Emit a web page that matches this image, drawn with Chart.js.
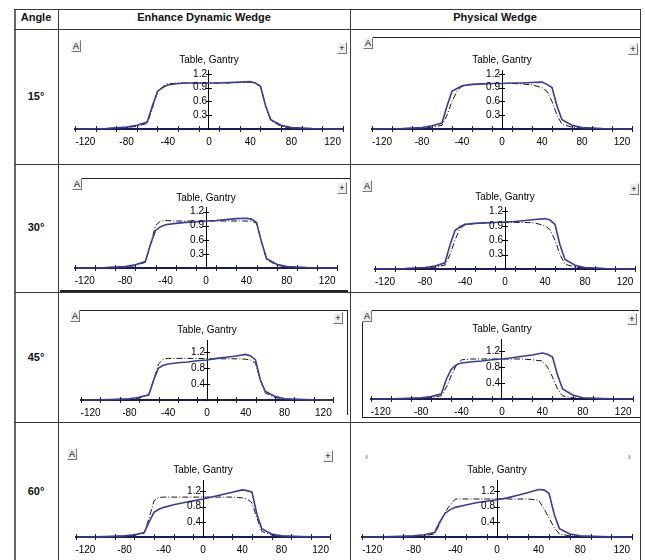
<!DOCTYPE html>
<html>
<head>
<meta charset="utf-8">
<script src="https://cdn.jsdelivr.net/npm/chart.js@4/dist/chart.umd.min.js"></script>
<style>
  body { margin: 0; background: #fff; width: 645px; height: 560px; overflow: hidden; position: relative; font-family: "Liberation Sans", Arial, sans-serif; }
  .ln { position: absolute; background: #3a3a3a; }
  .hd { position: absolute; top: 11px; font-weight: bold; font-size: 11px; text-align: center; color: #111; }
  .ang { position: absolute; left: 14px; width: 44px; font-weight: bold; font-size: 11px; text-align: center; color: #111; }
  canvas { position: absolute; }
  .btn { position: absolute; width: 8px; height: 10px; background: #eeeeee; border-top: 1px solid #fff; border-left: 1px solid #fff;
         border-right: 1px solid #777; border-bottom: 1px solid #777; font: 9px "Liberation Sans", Arial; line-height: 10px; text-align: center; color: #000; }
  .fr { position: absolute; background: #222; }
</style>
</head>
<body>
<div class="ln" style="left:14px;top:9px;width:2px;height:551px;background:#666"></div>
<div class="ln" style="left:58px;top:9px;width:1px;height:551px"></div>
<div class="ln" style="left:350px;top:9px;width:1px;height:551px"></div>
<div class="ln" style="left:640px;top:9px;width:1px;height:551px"></div>
<div class="ln" style="left:14px;top:9px;width:627px;height:1px"></div>
<div class="ln" style="left:14px;top:29px;width:627px;height:1px"></div>
<div class="ln" style="left:14px;top:164px;width:627px;height:1px"></div>
<div class="ln" style="left:14px;top:292px;width:627px;height:1px"></div>
<div class="ln" style="left:14px;top:422px;width:627px;height:1px"></div>

<div class="hd" style="left:14px;width:44px">Angle</div>
<div class="hd" style="left:58px;width:292px">Enhance Dynamic Wedge</div>
<div class="hd" style="left:350px;width:290px">Physical Wedge</div>

<div class="ang" style="top:90px">15°</div>
<div class="ang" style="top:221px">30°</div>
<div class="ang" style="top:351px">45°</div>
<div class="ang" style="top:485px">60°</div>

<!-- screenshot frame remnants -->
<div class="fr" style="left:372px;top:37px;width:268px;height:1px"></div>
<div class="fr" style="left:81px;top:178px;width:269px;height:1px"></div>
<div class="fr" style="left:60px;top:290px;width:288px;height:2px"></div>
<div class="fr" style="left:80px;top:310px;width:268px;height:1px"></div>
<div class="fr" style="left:347px;top:310px;width:1px;height:105px"></div>
<div class="fr" style="left:371px;top:310px;width:268px;height:1px"></div>
<div class="fr" style="left:362px;top:310px;width:1px;height:107px"></div>
<div class="fr" style="left:362px;top:417px;width:278px;height:1px"></div>

<script>
// shared x positions (mm)
const xs = [-130, -120, -100, -80, -70, -60, -55, -50, -45, -40, -30, -20, -10, 0, 10, 20, 30, 40, 45, 50, 55, 60, 70, 80, 100, 120, 130];
const xTickLabels = [-120, -80, -40, 0, 40, 80, 120];

// 15 deg
const edw15Solid  = [0, 0, 0.01, 0.04, 0.08, 0.15, 0.50, 0.82, 0.90, 0.96, 0.99, 1.00, 1.00, 1.00, 1.00, 1.01, 1.02, 1.03, 1.00, 0.93, 0.50, 0.20, 0.08, 0.03, 0.01, 0, 0];
const edw15Dashed = [0, 0, 0.01, 0.03, 0.06, 0.12, 0.45, 0.80, 0.92, 0.98, 1.00, 1.00, 1.00, 1.00, 1.00, 1.00, 1.01, 1.02, 0.99, 0.92, 0.50, 0.18, 0.06, 0.02, 0.01, 0, 0];
const pw15Solid   = [0, 0, 0.01, 0.03, 0.07, 0.13, 0.50, 0.82, 0.88, 0.94, 0.97, 0.98, 0.99, 0.99, 1.00, 1.00, 1.01, 1.02, 0.97, 0.90, 0.50, 0.20, 0.08, 0.03, 0.01, 0, 0];
const pw15Dashed  = [0, 0, 0.01, 0.02, 0.04, 0.08, 0.30, 0.60, 0.82, 0.93, 0.97, 0.98, 0.99, 0.99, 0.99, 0.98, 0.96, 0.90, 0.82, 0.60, 0.30, 0.10, 0.04, 0.02, 0.01, 0, 0];
// 30 deg
const edw30Solid  = [0, 0, 0.01, 0.03, 0.07, 0.14, 0.50, 0.80, 0.88, 0.92, 0.95, 0.97, 0.98, 1.00, 1.01, 1.03, 1.05, 1.06, 1.04, 0.97, 0.55, 0.20, 0.08, 0.03, 0.01, 0, 0];
const edw30Dashed = [0, 0, 0.01, 0.02, 0.05, 0.12, 0.50, 0.90, 1.00, 1.01, 1.00, 1.00, 1.00, 1.00, 1.00, 1.00, 1.00, 1.00, 1.00, 0.95, 0.55, 0.18, 0.06, 0.02, 0.01, 0, 0];
const pw30Solid   = [0, 0, 0.01, 0.03, 0.06, 0.13, 0.50, 0.80, 0.88, 0.93, 0.95, 0.96, 0.97, 0.98, 0.99, 1.01, 1.03, 1.05, 1.02, 0.93, 0.50, 0.20, 0.08, 0.03, 0.01, 0, 0];
const pw30Dashed  = [0, 0, 0.01, 0.02, 0.04, 0.08, 0.30, 0.60, 0.85, 0.92, 0.95, 0.96, 0.97, 0.97, 0.97, 0.97, 0.96, 0.90, 0.82, 0.60, 0.30, 0.10, 0.04, 0.02, 0.01, 0, 0];
// 45 deg
const edw45Solid  = [0, 0, 0.01, 0.03, 0.07, 0.13, 0.50, 0.80, 0.87, 0.90, 0.93, 0.95, 0.98, 1.00, 1.04, 1.07, 1.10, 1.14, 1.10, 1.00, 0.50, 0.22, 0.09, 0.03, 0.01, 0, 0];
const edw45Dashed = [0, 0, 0.01, 0.02, 0.05, 0.12, 0.50, 0.90, 1.02, 1.04, 1.04, 1.04, 1.04, 1.03, 1.03, 1.03, 1.03, 1.02, 1.00, 0.92, 0.50, 0.18, 0.06, 0.02, 0.01, 0, 0];
const pw45Solid   = [0, 0, 0.01, 0.03, 0.06, 0.13, 0.50, 0.75, 0.86, 0.90, 0.93, 0.95, 0.98, 1.00, 1.03, 1.07, 1.10, 1.15, 1.12, 1.05, 0.60, 0.25, 0.10, 0.03, 0.01, 0, 0];
const pw45Dashed  = [0, 0, 0.01, 0.02, 0.04, 0.08, 0.30, 0.60, 0.85, 0.98, 1.00, 1.00, 1.00, 1.00, 1.00, 1.00, 0.98, 0.95, 0.80, 0.55, 0.25, 0.08, 0.03, 0.01, 0.01, 0, 0];
// 60 deg
const edw60Solid  = [0, 0, 0.01, 0.03, 0.06, 0.12, 0.40, 0.65, 0.73, 0.78, 0.85, 0.90, 0.95, 1.00, 1.06, 1.12, 1.18, 1.24, 1.22, 1.18, 0.60, 0.22, 0.08, 0.03, 0.01, 0, 0];
const edw60Dashed = [0, 0, 0.01, 0.02, 0.04, 0.10, 0.50, 0.95, 1.04, 1.05, 1.05, 1.05, 1.05, 1.05, 1.05, 1.05, 1.05, 1.03, 1.00, 0.90, 0.50, 0.15, 0.05, 0.02, 0.01, 0, 0];
const pw60Solid   = [0, 0, 0.01, 0.03, 0.06, 0.12, 0.40, 0.62, 0.72, 0.78, 0.84, 0.90, 0.94, 0.98, 1.03, 1.10, 1.17, 1.25, 1.24, 1.15, 0.60, 0.22, 0.08, 0.03, 0.01, 0, 0];
const pw60Dashed  = [0, 0, 0.01, 0.02, 0.03, 0.08, 0.35, 0.65, 0.85, 1.00, 1.00, 1.00, 1.00, 1.00, 1.00, 1.00, 1.00, 0.97, 0.75, 0.50, 0.25, 0.08, 0.03, 0.01, 0.01, 0, 0];

// where each screenshot sits on the page
// cell: canvas rect; x0/axisY: page pixel of origin; kx/ky: px per unit
const panels = [
  { solid: edw15Solid, dashed: edw15Dashed, cell: [59, 30, 291, 134], x0: 209, kx: 1.03, axisY: 129, ky: 46, ymax: 1.28, step: 0.3, A: [71, 40], P: [337, 42] },
  { solid: pw15Solid,  dashed: pw15Dashed,  cell: [351, 30, 289, 134], x0: 502, kx: 1.00, axisY: 129, ky: 46, ymax: 1.28, step: 0.3, A: [363, 37], P: [628, 43] },
  { solid: edw30Solid, dashed: edw30Dashed, cell: [59, 165, 291, 127], x0: 206, kx: 1.01, axisY: 268, ky: 47, ymax: 1.28, step: 0.3, A: [72, 178], P: [337, 182] },
  { solid: pw30Solid,  dashed: pw30Dashed,  cell: [351, 165, 289, 127], x0: 505, kx: 1.00, axisY: 269, ky: 48, ymax: 1.28, step: 0.3, A: [362, 180], P: [629, 183] },
  { solid: edw45Solid, dashed: edw45Dashed, cell: [59, 293, 291, 129], x0: 207, kx: 0.97, axisY: 400, ky: 40, ymax: 1.5, step: 0.4, A: [70, 310], P: [333, 312] },
  { solid: pw45Solid,  dashed: pw45Dashed,  cell: [351, 293, 289, 129], x0: 502, kx: 1.01, axisY: 399, ky: 40, ymax: 1.5, step: 0.4, A: [362, 310], P: [627, 313] },
  { solid: edw60Solid, dashed: edw60Dashed, cell: [59, 423, 291, 137], x0: 203, kx: 0.98, axisY: 537, ky: 38, ymax: 1.5, step: 0.4, A: [67, 448], P: [323, 450] },
  { solid: pw60Solid,  dashed: pw60Dashed,  cell: [351, 423, 289, 137], x0: 497, kx: 1.04, axisY: 537, ky: 38, ymax: 1.5, step: 0.4, A: null, P: null }
];

const labelFont = '10px "Liberation Sans", Arial';

// crossing tick marks, tick labels and the "Table, Gantry" caption
const crossTicks = {
  id: "crossTicks",
  afterDraw(chart) {
    const { ctx, scales: { x, y } } = chart;
    const ay = y.getPixelForValue(0);
    const ax = x.getPixelForValue(0);
    ctx.save();
    ctx.lineWidth = 1;
    ctx.strokeStyle = "#1c1c5a";
    x.ticks.forEach(t => {
      const px = Math.round(x.getPixelForValue(t.value)) + 0.5;
      ctx.beginPath(); ctx.moveTo(px, ay - 3); ctx.lineTo(px, ay + 3); ctx.stroke();
    });
    ctx.strokeStyle = "#000";
    y.ticks.forEach(t => {
      if (t.value < 0.01) return;
      const py = Math.round(y.getPixelForValue(t.value)) + 0.5;
      ctx.beginPath(); ctx.moveTo(ax - 3, py); ctx.lineTo(ax + 3, py); ctx.stroke();
    });
    ctx.fillStyle = "#000";
    ctx.font = labelFont;
    ctx.textBaseline = "middle";
    ctx.textAlign = "center";
    xTickLabels.forEach(v => ctx.fillText(String(v), x.getPixelForValue(v), ay + 13));
    ctx.textAlign = "right";
    y.ticks.forEach(t => {
      if (t.value < 0.01) return;
      ctx.fillText(t.value.toFixed(1), ax - 2, y.getPixelForValue(t.value));
    });
    ctx.textAlign = "center";
    ctx.fillText("Table, Gantry", ax, chart.chartArea.top - 10);
    ctx.restore();
  }
};

const noPad = s => { s.paddingLeft = 0; s.paddingRight = 0; s.paddingTop = 0; s.paddingBottom = 0; };

panels.forEach(p => {
  const [cl, ct, cw, ch] = p.cell;
  const canvas = document.createElement("canvas");
  canvas.width = cw; canvas.height = ch;
  canvas.style.left = cl + "px"; canvas.style.top = ct + "px";
  canvas.style.width = cw + "px"; canvas.style.height = ch + "px";
  document.body.appendChild(canvas);

  const left = p.x0 - 130 * p.kx - cl;
  const right = cl + cw - (p.x0 + 130 * p.kx);
  const bottom = ct + ch - p.axisY;
  const top = p.axisY - p.ymax * p.ky - ct;

  new Chart(canvas, {
    type: "line",
    data: {
      datasets: [
        { data: xs.map((x, i) => ({ x, y: p.solid[i] })), borderColor: "#3c3c96", borderWidth: 1.6, pointRadius: 0, tension: 0, clip: false },
        { data: xs.map((x, i) => ({ x, y: p.dashed[i] })), borderColor: "#151515", borderWidth: 1, borderDash: [6, 2, 1, 2], pointRadius: 0, tension: 0, clip: false }
      ]
    },
    options: {
      responsive: false,
      animation: false,
      layout: { padding: { left, right, top, bottom } },
      plugins: { legend: { display: false }, tooltip: { enabled: false } },
      scales: {
        x: {
          type: "linear", min: -130, max: 130, position: { y: 0 },
          afterFit: noPad,
          grid: { display: true, drawOnChartArea: false, drawTicks: false },
          border: { display: true, color: "#1c1c5a", width: 2 },
          ticks: { display: false, stepSize: 20, includeBounds: false, autoSkip: false, maxRotation: 0 }
        },
        y: {
          type: "linear", min: 0, max: p.ymax, position: { x: 0 },
          afterFit: noPad,
          grid: { display: true, drawOnChartArea: false, drawTicks: false },
          border: { display: true, color: "#000", width: 1 },
          ticks: { display: false, stepSize: p.step, includeBounds: false, autoSkip: false }
        }
      }
    },
    plugins: [crossTicks]
  });

  if (p.A) {
    const a = document.createElement("div");
    a.className = "btn"; a.textContent = "A";
    a.style.left = p.A[0] + "px"; a.style.top = p.A[1] + "px";
    document.body.appendChild(a);
  }
  if (p.P) {
    const b = document.createElement("div");
    b.className = "btn"; b.textContent = "+";
    b.style.left = p.P[0] + "px"; b.style.top = p.P[1] + "px";
    document.body.appendChild(b);
  }
});
</script>
<div style="position:absolute;left:365px;top:455px;width:3px;height:4px;background:#ccc"></div>
<div style="position:absolute;left:628px;top:455px;width:3px;height:4px;background:#ccc"></div>
</body>
</html>
